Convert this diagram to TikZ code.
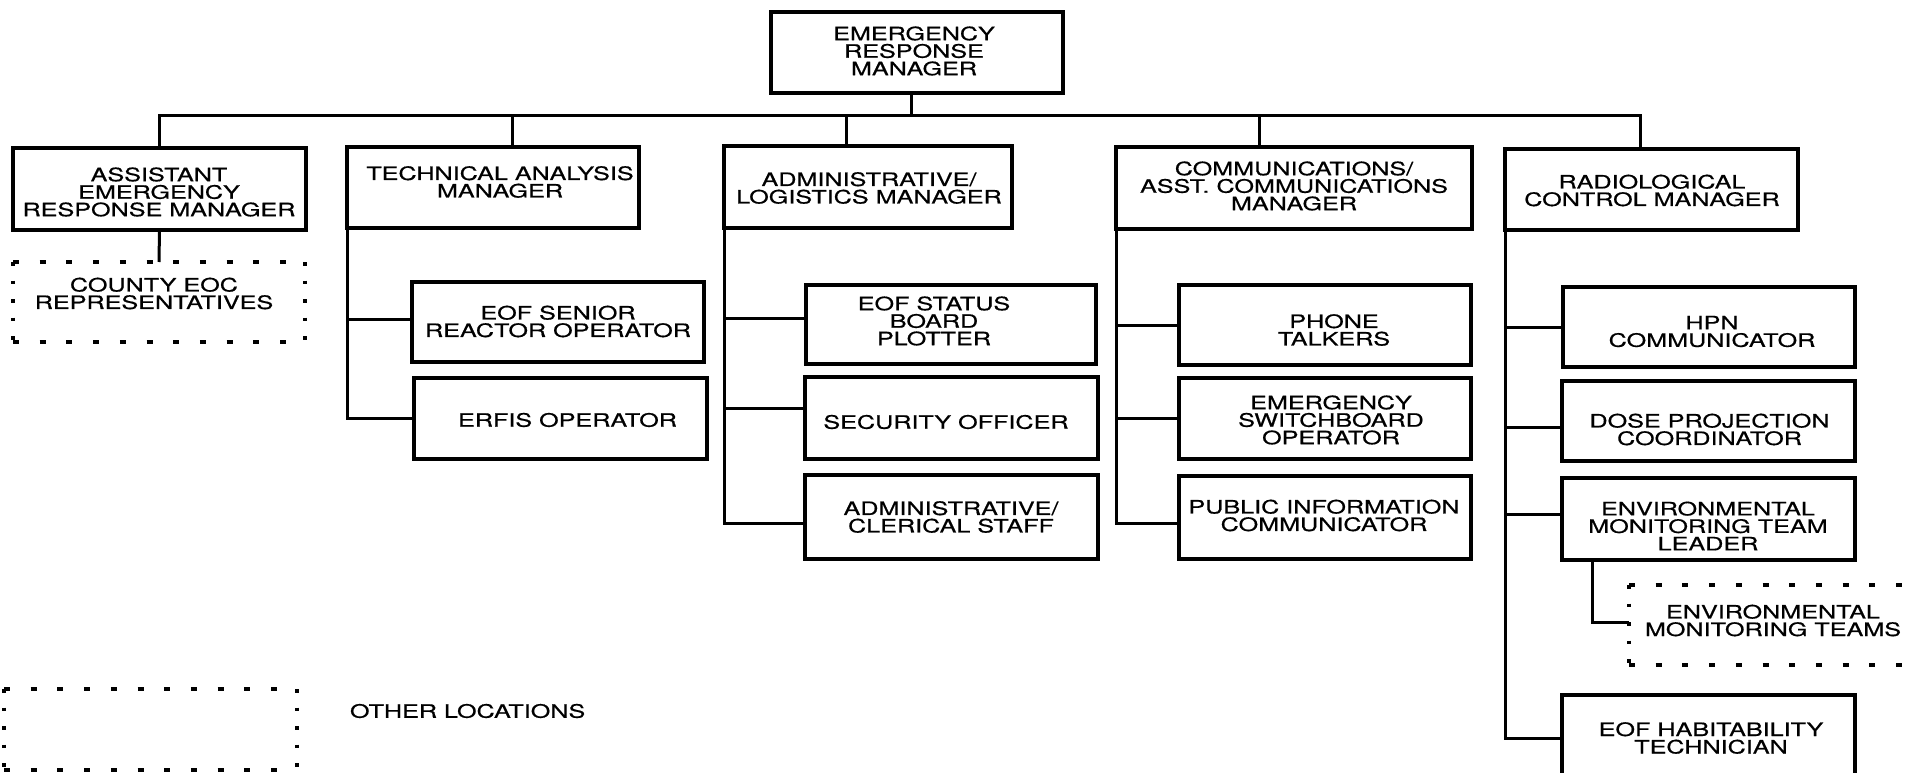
\documentclass[tikz,border=0pt]{standalone}
\usepackage{fontspec}
\newfontfamily\chartfont[FakeStretch=1.36,FakeBold=0.6]{TeX Gyre Heros}
\usetikzlibrary{calc}
\begin{document}
\begin{tikzpicture}[x=1pt,y=-1pt,
  box/.style={draw, rectangle, line width=3.4pt, inner sep=0pt, outer sep=0pt},
  dbox/.style={rectangle, inner sep=0pt, outer sep=0pt},
  txt/.style={inner sep=0pt, outer sep=0pt, align=center, font=\chartfont\fontsize{18.5pt}{17.5pt}\selectfont},
  link/.style={line width=3pt},
  hdots/.style={line width=3.2pt, dash pattern=on 6pt off 20.7pt},
  vdots/.style={line width=3.2pt, dash pattern=on 3.5pt off 15pt}]
\useasboundingbox (0,0) rectangle (1913,773);
\clip (0,0) rectangle (1913,773);

% boxes
\node[box, minimum width=292pt, minimum height=81pt] (erm) at (917,52.5) {};
\node[box, minimum width=293pt, minimum height=82pt] (asst) at (159.5,189) {};
\node[box, minimum width=292pt, minimum height=81pt] (tech) at (493,187.5) {};
\node[box, minimum width=288pt, minimum height=82pt] (admin) at (868,187) {};
\node[box, minimum width=356pt, minimum height=82pt] (comms) at (1294,188) {};
\node[box, minimum width=293pt, minimum height=81pt] (rcm) at (1651.5,189.5) {};

\node[dbox, minimum width=292pt, minimum height=80pt] (county) at (159,302) {};
\node[box, minimum width=292pt, minimum height=80pt] (eofsr) at (558,322) {};
\node[box, minimum width=293pt, minimum height=81pt] (erfis) at (560.5,418.5) {};

\node[box, minimum width=290pt, minimum height=79pt] (status) at (951,324.5) {};
\node[box, minimum width=293pt, minimum height=82pt] (sec) at (951.5,418) {};
\node[box, minimum width=293pt, minimum height=84pt] (cler) at (951.5,517) {};

\node[box, minimum width=292pt, minimum height=80pt] (phone) at (1325,325) {};
\node[box, minimum width=292pt, minimum height=81pt] (switch) at (1325,418.5) {};
\node[box, minimum width=292pt, minimum height=83pt] (pub) at (1325,517.5) {};

\node[box, minimum width=292pt, minimum height=80pt] (hpn) at (1709,327) {};
\node[box, minimum width=293pt, minimum height=80pt] (dose) at (1708.5,421) {};
\node[box, minimum width=293pt, minimum height=82pt] (envl) at (1708.5,519) {};
\node[dbox, minimum width=300pt, minimum height=80pt] (envt) at (1779,625) {};
\node[box, minimum width=293pt, minimum height=95pt] (hab) at (1708.5,742.5) {};

\node[dbox, minimum width=293pt, minimum height=81pt] (other) at (150.5,729.5) {};

% texts
\node[txt] (erm-t) at (914,51) {EMERGENCY\\RESPONSE\\MANAGER};
\node[txt] (asst-t) at (159,192) {ASSISTANT\\EMERGENCY\\RESPONSE MANAGER};
\node[txt] (tech-t) at (500,182) {TECHNICAL ANALYSIS\\MANAGER};
\node[txt] (admin-t) at (869,188) {ADMINISTRATIVE/\\LOGISTICS MANAGER};
\node[txt] (comms-t) at (1294,186) {COMMUNICATIONS/\\ASST. COMMUNICATIONS\\MANAGER};
\node[txt] (rcm-t) at (1652,190.5) {RADIOLOGICAL\\CONTROL MANAGER};
\node[txt] (county-t) at (154,293.5) {COUNTY EOC\\REPRESENTATIVES};
\node[txt] (eofsr-t) at (558,321.5) {EOF SENIOR\\REACTOR OPERATOR};
\node[txt] (erfis-t) at (567.5,420) {ERFIS OPERATOR};
\node[txt] (status-t) at (934,321) {EOF STATUS\\BOARD\\PLOTTER};
\node[txt] (sec-t) at (946,422) {SECURITY OFFICER};
\node[txt] (cler-t) at (951,517) {ADMINISTRATIVE/\\CLERICAL STAFF};
\node[txt] (phone-t) at (1334,330) {PHONE\\TALKERS};
\node[txt] (switch-t) at (1331,420) {EMERGENCY\\SWITCHBOARD\\OPERATOR};
\node[txt] (pub-t) at (1324,515.5) {PUBLIC INFORMATION\\COMMUNICATOR};
\node[txt] (hpn-t) at (1712,331.5) {HPN\\COMMUNICATOR};
\node[txt] (dose-t) at (1709.5,429.5) {DOSE PROJECTION\\COORDINATOR};
\node[txt] (envl-t) at (1708,526) {ENVIRONMENTAL\\MONITORING TEAM\\LEADER};
\node[txt] (envt-t) at (1773,620.5) {ENVIRONMENTAL\\MONITORING TEAMS};
\node[txt] (hab-t) at (1711,738) {EOF HABITABILITY\\TECHNICIAN};
\node[txt, anchor=west] (other-t) at (350,711) {OTHER LOCATIONS};

% dotted outlines
\draw[hdots] (county.north west) -- (county.north east);
\draw[hdots] (county.south west) -- (county.south east);
\draw[vdots] (county.north west) -- (county.south west);
\draw[vdots] (county.north east) -- (county.south east);

\draw[hdots] (other.north west) -- (other.north east);
\draw[hdots] (other.south west) -- (other.south east);
\draw[vdots] (other.north west) -- (other.south west);
\draw[vdots] (other.north east) -- (other.south east);

\draw[hdots] (envt.north west) -- (envt.north east);
\draw[hdots] (envt.south west) -- (envt.south east);
\draw[vdots] (envt.north west) -- (envt.south west);

% top bus
\coordinate (bus) at (0,116);
\coordinate (ermdrop) at ([xshift=-6pt]erm.south);
\coordinate (techdrop) at ([xshift=19pt]tech.north);
\coordinate (admindrop) at ([xshift=-22pt]admin.north);
\coordinate (commsdrop) at ([xshift=-35pt]comms.north);
\coordinate (rcmdrop) at ([xshift=-11.5pt]rcm.north);

\draw[link] (ermdrop) -- (ermdrop |- bus);
\draw[link] (asst.north) |- (rcmdrop |- bus) -- (rcmdrop);
\draw[link] (techdrop) -- (techdrop |- bus);
\draw[link] (admindrop) -- (admindrop |- bus);
\draw[link] (commsdrop) -- (commsdrop |- bus);

\draw[link] (asst.south) -- (county.north);

% technical analysis branch
\draw[link] (tech.south west) |- ([yshift=3pt]eofsr.west);
\draw[link] (tech.south west) |- (erfis.west);

% administrative branch
\draw[link] (admin.south west) |- ([yshift=6.5pt]status.west);
\draw[link] (admin.south west) |- ([yshift=10pt]sec.west);
\draw[link] (admin.south west) |- ([yshift=-6pt]cler.west);

% communications branch
\draw[link] (comms.south west) |- (phone.west);
\draw[link] (comms.south west) |- (switch.west);
\draw[link] (comms.south west) |- ([yshift=-5.5pt]pub.west);

% radiological branch
\draw[link] (rcm.south west) |- (hpn.west);
\draw[link] (rcm.south west) |- ([yshift=-6pt]dose.west);
\draw[link] (rcm.south west) |- ([yshift=5pt]envl.west);
\draw[link] (rcm.south west) |- ([yshift=-43pt]hab.north west);

\coordinate (envdrop) at ([xshift=-116.5pt]envl.south);
\draw[link] (envdrop) |- ([yshift=3pt]envt.west);
\end{tikzpicture}
\end{document}
